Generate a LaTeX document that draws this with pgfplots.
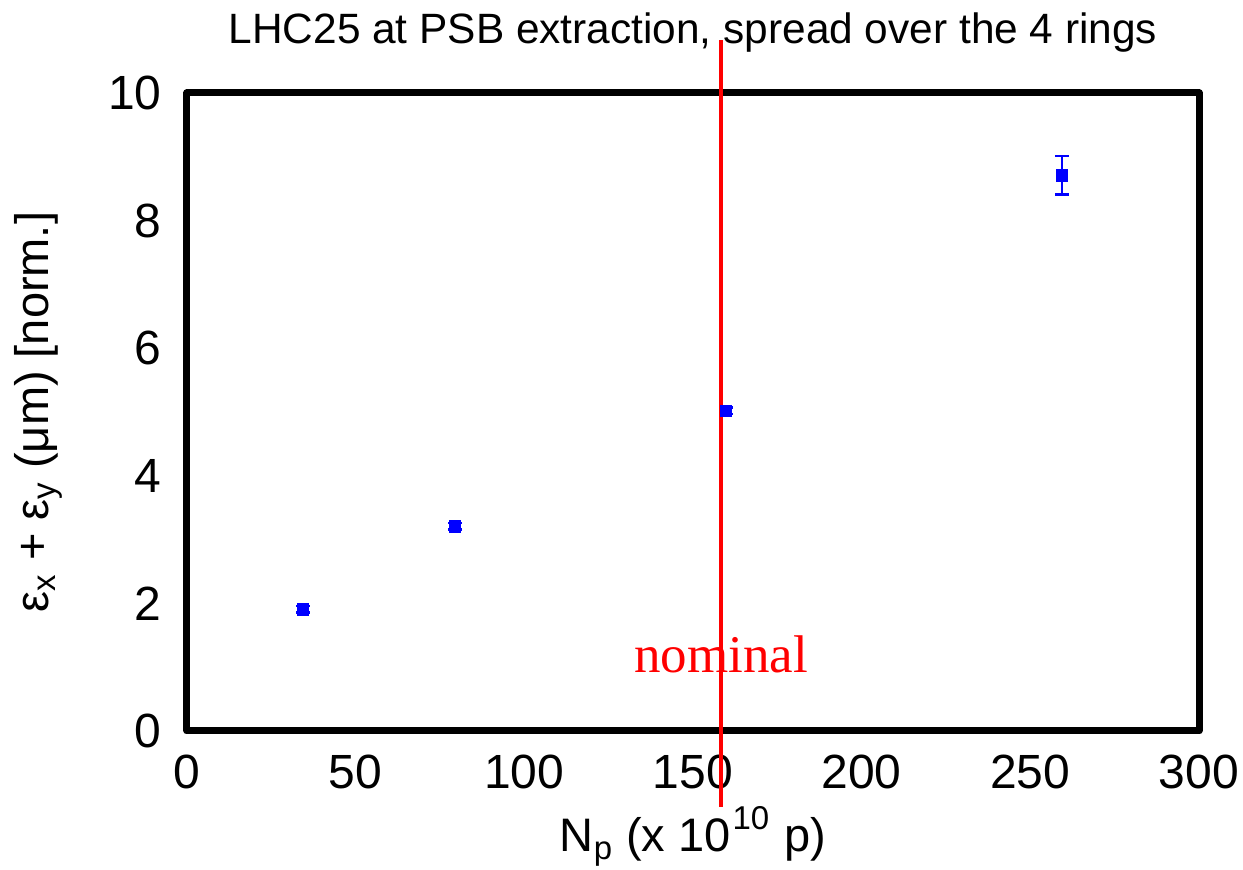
\documentclass[border=0pt]{standalone}
\usepackage{pgfplots}
\pgfplotsset{compat=1.18}
\usepackage{fontspec}
\setmainfont{Liberation Sans}
\newfontfamily\seriffont{Liberation Serif}
\begin{document}
\begin{tikzpicture}
\useasboundingbox (-93.5pt,-69.5pt) rectangle (528pt,365.5pt);
\begin{axis}[
  at={(0pt,0pt)}, anchor=south west,
  width=506pt, height=319pt, scale only axis,
  xmin=0, xmax=300, ymin=0, ymax=10,
  xtick={0,50,...,300}, ytick={0,2,...,10},
  /pgf/number format/assume math mode=true,
  ticklabel style={font=\fontsize{24}{28}\selectfont},
  xticklabel style={anchor=base, yshift=-29pt},
  yticklabel style={anchor=east, inner sep=0pt, xshift=-12.5pt},
  label style={font=\fontsize{23.5}{27}\selectfont},
  xlabel style={at={(axis description cs:0.5,0)}, anchor=base, yshift=-60.5pt},
  ylabel style={at={(axis description cs:-0.147,0.5)}, anchor=center},
  title style={font=\fontsize{21.2}{25}\selectfont, at={(axis description cs:0.5,1)}, anchor=base, yshift=18.5pt},
  title={LHC25 at PSB extraction, spread over the 4 rings},
  xlabel={N\textsubscript{p} (x 10\kern1pt\raisebox{11pt}{\fontsize{16.5}{19}\selectfont 10}\kern1pt\ p)},
  ylabel={ε\textsubscript{x} + ε\textsubscript{y} (μm) [norm.]},
  axis line style={line width=3.5pt, line join=round},
  major tick length=0pt,
  clip=false,
]
\addplot[only marks, blue, mark=square*, mark size=2.9pt,
  error bars/.cd, y dir=both, y explicit,
  error bar style={line width=1.3pt, blue},
  error mark options={rotate=90, mark size=3.4pt, line width=1.3pt, blue}]
  coordinates {
  (34.4,1.91) +- (0,0.05)
  (79.4,3.21) +- (0,0.05)
  (159.8,5.02) +- (0,0.05)
  (259.4,8.71) +- (0,0.3)
};
\addplot[red, line width=2pt, no marks] coordinates {(158.3,-1.19) (158.3,10.83)};
\node[red, font=\seriffont\fontsize{26.5}{30}\selectfont, anchor=base] at (axis cs:158.3,0.92) {nominal};
\end{axis}
\end{tikzpicture}
\end{document}
